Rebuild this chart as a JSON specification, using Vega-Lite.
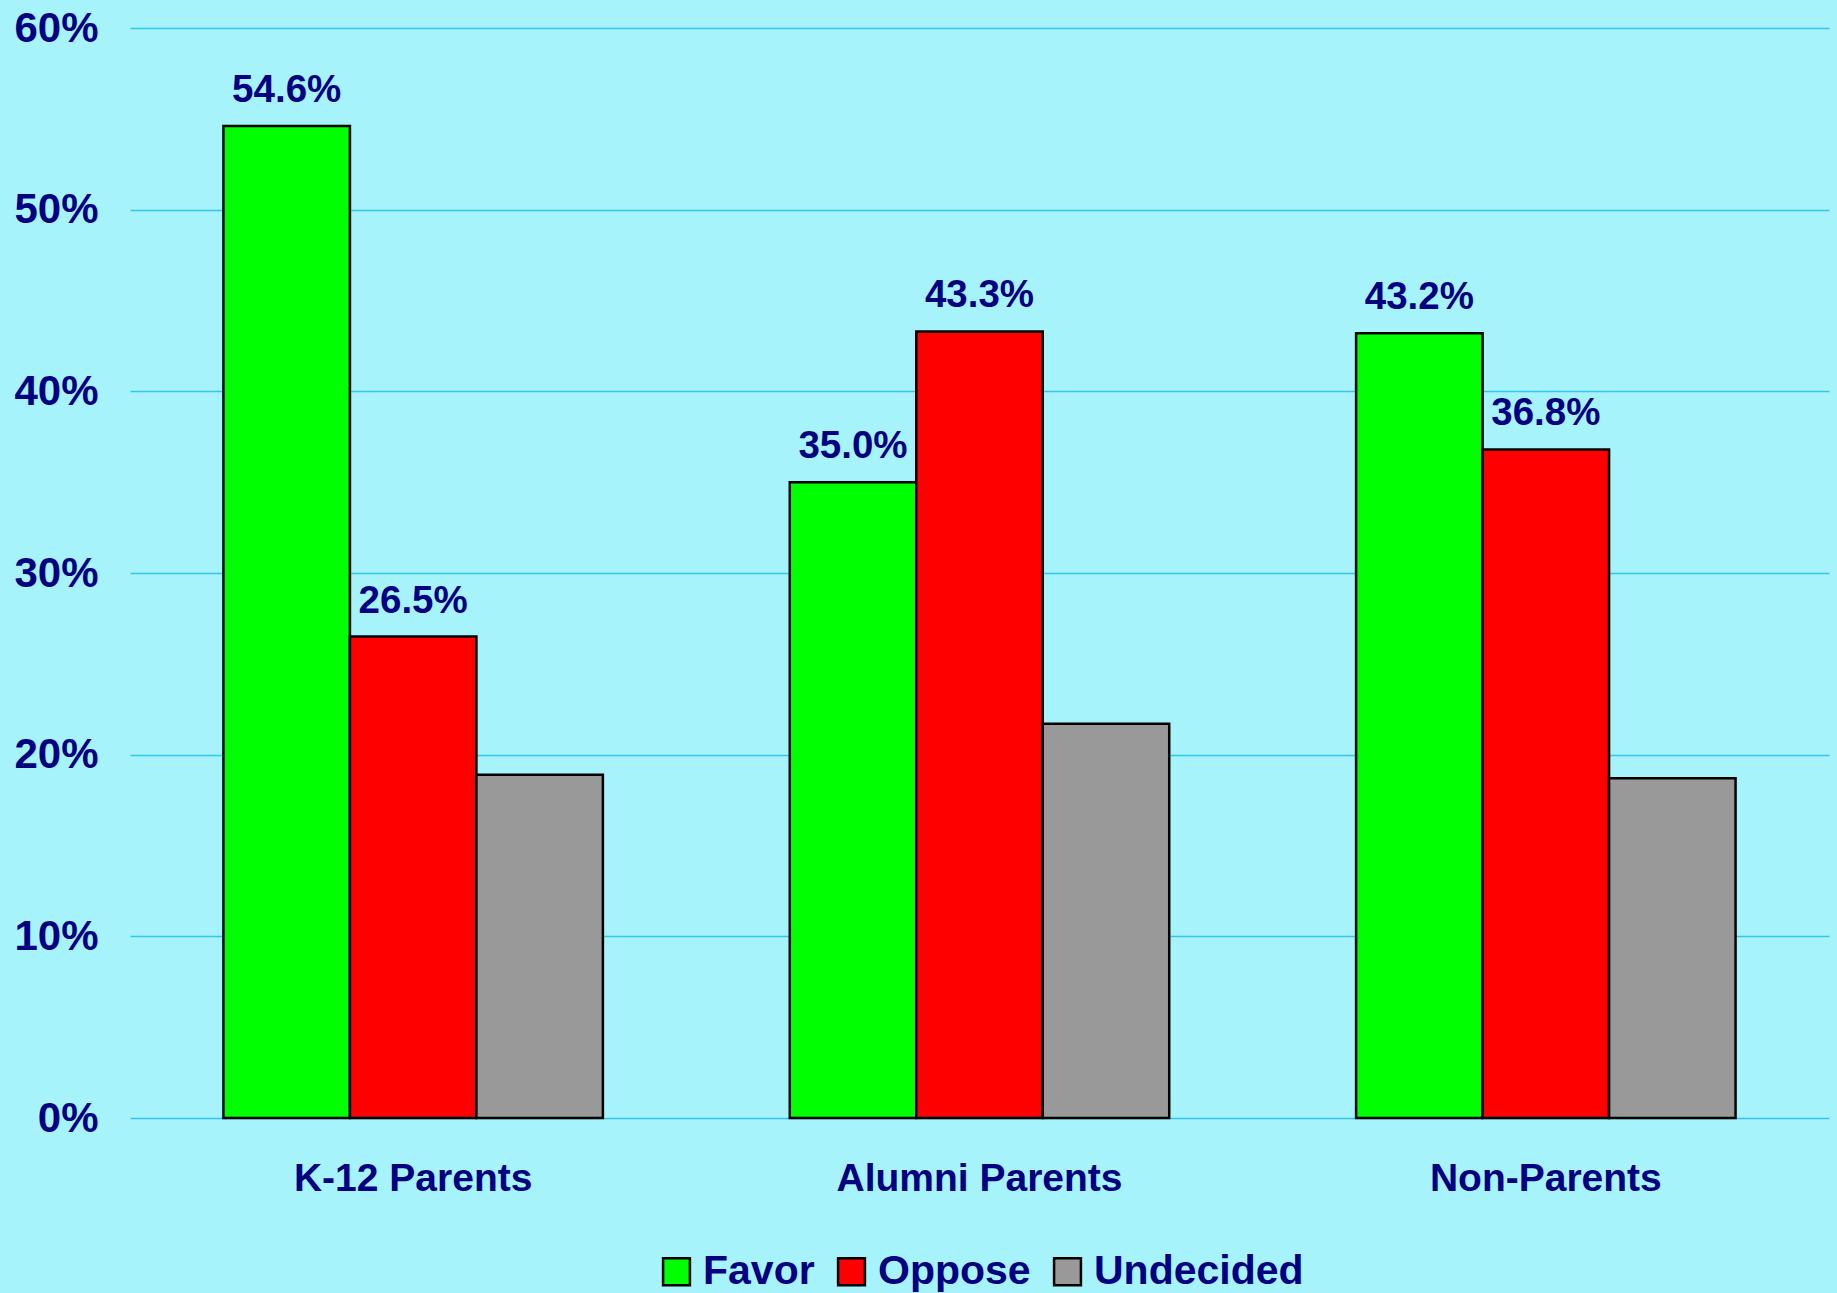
{
  "$schema": "https://vega.github.io/schema/vega-lite/v6.json",
  "width": 1699,
  "height": 1090,
  "autosize": {"type": "none"},
  "padding": {"left": 130, "top": 28, "right": 8, "bottom": 175},
  "background": "#a6f3fc",
  "config": {
    "view": {"stroke": null},
    "font": "Liberation Sans",
    "legend": {"layout": {"bottom": {"anchor": "middle"}}}
  },
  "data": {
    "values": [
      {"group": "K-12 Parents", "response": "Favor", "pct": 0.546},
      {"group": "K-12 Parents", "response": "Oppose", "pct": 0.265},
      {"group": "K-12 Parents", "response": "Undecided", "pct": 0.189},
      {"group": "Alumni Parents", "response": "Favor", "pct": 0.350},
      {"group": "Alumni Parents", "response": "Oppose", "pct": 0.433},
      {"group": "Alumni Parents", "response": "Undecided", "pct": 0.217},
      {"group": "Non-Parents", "response": "Favor", "pct": 0.432},
      {"group": "Non-Parents", "response": "Oppose", "pct": 0.368},
      {"group": "Non-Parents", "response": "Undecided", "pct": 0.187}
    ]
  },
  "encoding": {
    "x": {
      "field": "group",
      "type": "nominal",
      "sort": ["K-12 Parents", "Alumni Parents", "Non-Parents"],
      "scale": {"paddingInner": 0.33, "paddingOuter": 0.165},
      "axis": {
        "title": null,
        "labelAngle": 0,
        "domain": false,
        "ticks": false,
        "tickSize": 0,
        "labelFontSize": 39,
        "labelFontWeight": "bold",
        "labelColor": "#000080",
        "labelPadding": 41,
        "labelLimit": 600
      }
    },
    "xOffset": {
      "field": "response",
      "type": "nominal",
      "sort": ["Favor", "Oppose", "Undecided"],
      "scale": {"paddingInner": 0, "paddingOuter": 0}
    },
    "y": {
      "field": "pct",
      "type": "quantitative",
      "scale": {"domain": [0, 0.6], "nice": false},
      "axis": {
        "title": null,
        "values": [0, 0.1, 0.2, 0.3, 0.4, 0.5, 0.6],
        "format": ".0%",
        "domain": false,
        "ticks": false,
        "tickSize": 0,
        "grid": true,
        "gridColor": "#36c6ec",
        "gridWidth": 1.5,
        "labelFontSize": 42,
        "labelFontWeight": "bold",
        "labelColor": "#000080",
        "labelPadding": 32
      }
    }
  },
  "layer": [
    {
      "mark": {"type": "bar", "stroke": "black", "strokeWidth": 2.5},
      "encoding": {
        "color": {
          "field": "response",
          "type": "nominal",
          "sort": ["Favor", "Oppose", "Undecided"],
          "scale": {"domain": ["Favor", "Oppose", "Undecided"], "range": ["#00ff00", "#ff0000", "#999999"]},
          "legend": {
            "title": null,
            "orient": "bottom",
            "direction": "horizontal",
            "symbolType": "square",
            "symbolSize": 720,
            "symbolStrokeColor": "black",
            "symbolStrokeWidth": 2.5,
            "symbolOpacity": 1,
            "labelFontSize": 41,
            "labelFontWeight": "bold",
            "labelColor": "#000080",
            "labelOffset": 6,
            "columnPadding": 16,
            "offset": 53,
            "labelLimit": 400
          }
        }
      }
    },
    {
      "transform": [{"filter": "datum.response != 'Undecided'"}],
      "mark": {"type": "text", "baseline": "alphabetic", "dy": -24, "fontSize": 38.5, "fontWeight": "bold", "color": "#000080"},
      "encoding": {
        "text": {"field": "pct", "type": "quantitative", "format": ".1%"}
      }
    }
  ]
}
